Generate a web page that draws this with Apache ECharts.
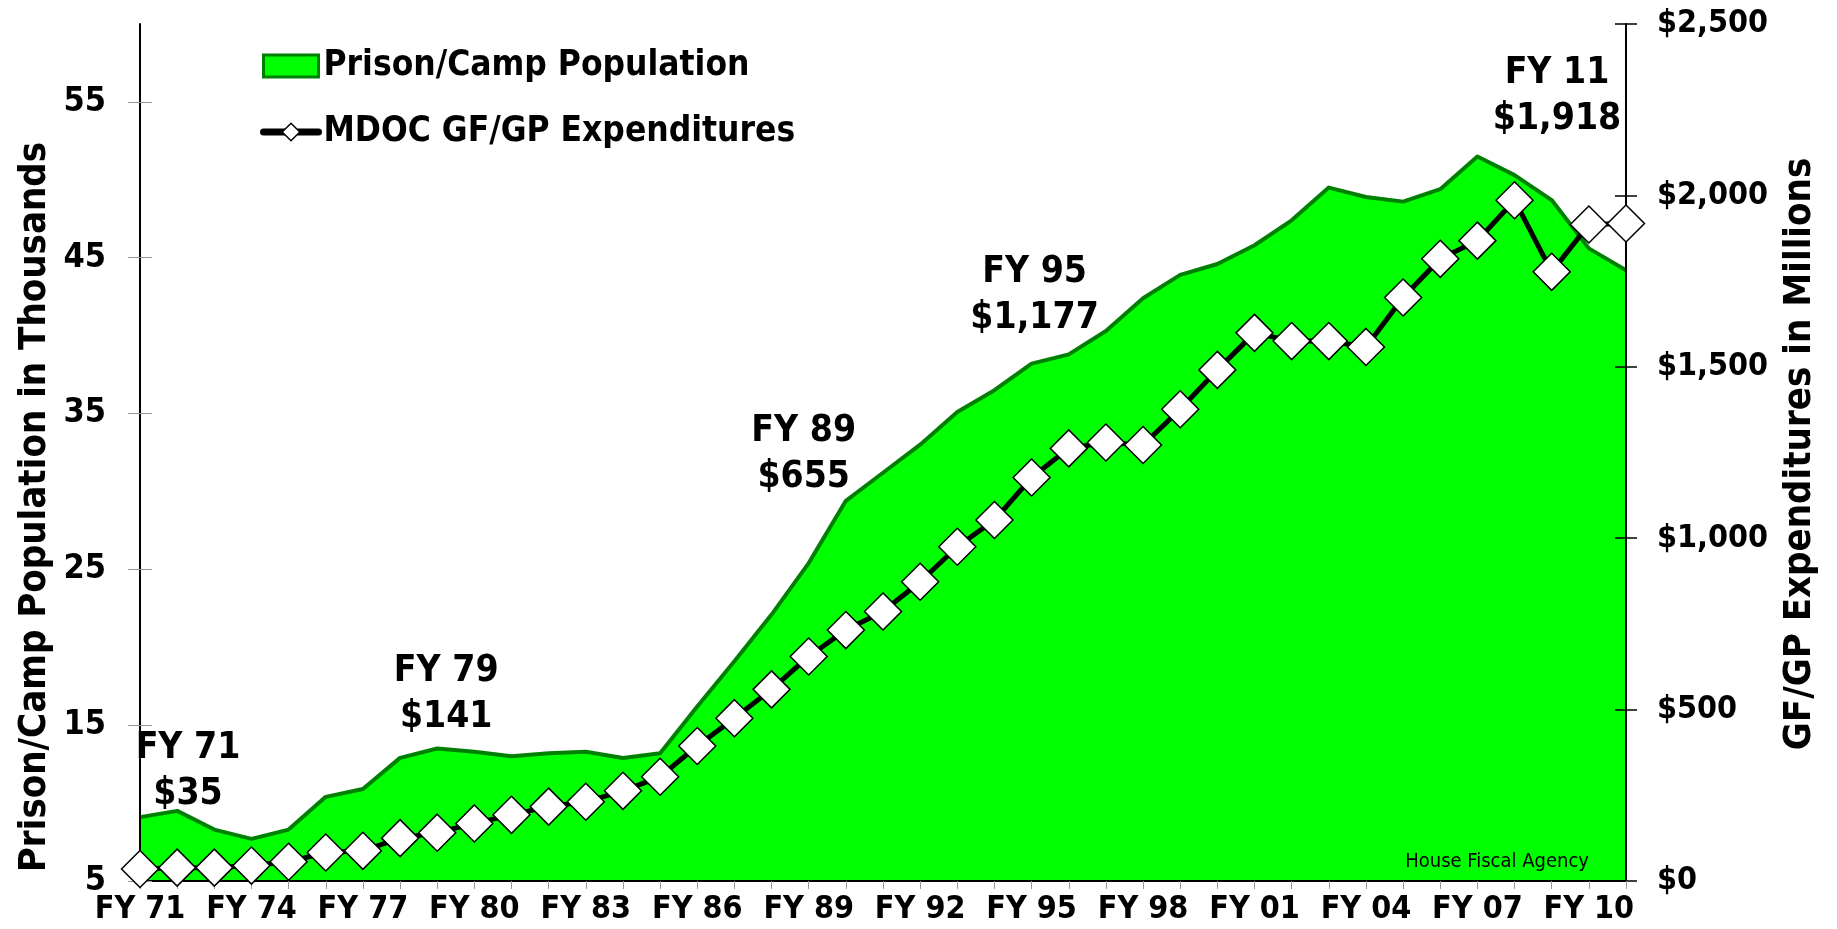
<!DOCTYPE html>
<html>
<head>
<meta charset="utf-8">
<script src="https://cdn.jsdelivr.net/npm/echarts@6/dist/echarts.min.js"></script>
<style>
  html, body { margin: 0; padding: 0; background: #ffffff; }
  #chart { width: 1837px; height: 929px; }
</style>
</head>
<body>
<div id="chart"></div>
<script>
// Fiscal years shown on the category axis
const years = [
  'FY 71','FY 72','FY 73','FY 74','FY 75','FY 76','FY 77','FY 78','FY 79','FY 80',
  'FY 81','FY 82','FY 83','FY 84','FY 85','FY 86','FY 87','FY 88','FY 89','FY 90',
  'FY 91','FY 92','FY 93','FY 94','FY 95','FY 96','FY 97','FY 98','FY 99','FY 00',
  'FY 01','FY 02','FY 03','FY 04','FY 05','FY 06','FY 07','FY 08','FY 09','FY 10',
  'FY 11'
];

// Prison/camp population, thousands
const population = [
  9.1, 9.5, 8.3, 7.7, 8.3, 10.4, 10.9, 12.9, 13.5, 13.3,
  13.0, 13.2, 13.3, 12.9, 13.2, 16.2, 19.1, 22.1, 25.4, 29.4,
  31.2, 33.0, 35.1, 36.5, 38.2, 38.8, 40.3, 42.4, 43.9, 44.6,
  45.8, 47.4, 49.5, 48.9, 48.6, 49.4, 51.5, 50.3, 48.7, 45.6,
  44.2
];

// MDOC GF/GP expenditures, $ millions
const expenditures = [
  35, 39, 39, 45, 56, 83, 88, 125, 141, 168,
  193, 217, 231, 263, 304, 394, 475, 559, 655, 732,
  786, 873, 975, 1053, 1177, 1262, 1279, 1272, 1376, 1491,
  1599, 1575, 1575, 1558, 1702, 1815, 1868, 1986, 1777, 1915,
  1918
];

// Tick values of the two value axes
const populationTicks = [5, 15, 25, 35, 45, 55];
const expenditureTicks = [0, 500, 1000, 1500, 2000, 2500];

// Years that get a spending call-out
const calloutYears = ['FY 71', 'FY 79', 'FY 89', 'FY 95', 'FY 11'];

// ---- presentation ----
const FONT = '"DejaVu Sans Condensed", "DejaVu Sans", sans-serif';
const calloutOffsets = {
  'FY 71': [48, -98],
  'FY 79': [9, -138],
  'FY 89': [-5, -202],
  'FY 95': [3, -182],
  'FY 11': [-69, -127]
};
const money = v => '$' + v.toLocaleString('en-US');

const spendData = expenditures.map((v, i) => {
  const yr = years[i];
  if (!calloutYears.includes(yr)) return v;
  return {
    value: v,
    label: {
      show: true,
      position: 'inside',
      offset: calloutOffsets[yr],
      formatter: () => yr + '\n' + money(v),
      fontFamily: FONT,
      fontWeight: 'bold',
      fontSize: 37,
      lineHeight: 46,
      color: '#000',
      align: 'center'
    }
  };
});

const chart = echarts.init(document.getElementById('chart'), null, { renderer: 'canvas' });

const popMin = 5, popMax = 60;
const spendMin = 0, spendMax = 2500;

chart.setOption({
  animation: false,
  backgroundColor: '#ffffff',
  grid: { left: 140, right: 211, top: 24, bottom: 48, containLabel: false, outerBoundsMode: 'none' },
  legend: {
    orient: 'vertical',
    left: 255,
    top: 43,
    itemWidth: 55,
    itemHeight: 22,
    itemGap: 30,
    selectedMode: false,
    textStyle: { fontFamily: FONT, fontWeight: 'bold', fontSize: 35, lineHeight: 36, color: '#000' },
    data: [
      { name: 'Prison/Camp Population', icon: 'rect',
        itemStyle: { color: '#00ff00', borderColor: '#008000', borderWidth: 3 } },
      { name: 'MDOC GF/GP Expenditures',
        itemStyle: { color: '#ffffff', borderColor: '#000000', borderWidth: 1.5 },
        lineStyle: { color: '#000000', width: 7, cap: 'round' } }
    ]
  },
  xAxis: {
    type: 'category',
    data: years,
    boundaryGap: false,
    z: 2,
    axisLine: { lineStyle: { color: '#000', width: 2 } },
    axisTick: { show: true, interval: 0, length: 8, lineStyle: { color: '#999', width: 1 } },
    axisLabel: {
      interval: 2,
      margin: 13,
      fontFamily: FONT, fontWeight: 'bold', fontSize: 32, color: '#000'
    },
    splitLine: { show: false }
  },
  yAxis: [
    {
      type: 'value', position: 'left', min: popMin, max: popMax, z: 2,
      axisLine: { show: true, lineStyle: { color: '#000', width: 2 } },
      axisTick: { show: true, length: 12, customValues: populationTicks, lineStyle: { color: '#999', width: 1 } },
      axisLabel: { customValues: populationTicks, margin: 34,
        fontFamily: FONT, fontWeight: 'bold', fontSize: 34, color: '#000' },
      splitLine: { show: false }
    },
    {
      type: 'value', position: 'right', min: spendMin, max: spendMax, interval: 500, z: 2,
      axisLine: { show: true, lineStyle: { color: '#000', width: 2 } },
      axisTick: { show: true, length: 11, customValues: expenditureTicks, lineStyle: { color: '#000', width: 1.5 } },
      axisLabel: { customValues: expenditureTicks, margin: 31, formatter: money,
        fontFamily: FONT, fontWeight: 'bold', fontSize: 32, color: '#000' },
      splitLine: { show: false }
    },
    // inner halves of the crossing tick marks
    {
      type: 'value', position: 'left', min: popMin, max: popMax, z: 2,
      axisLine: { show: false },
      axisTick: { show: true, inside: true, length: 12, customValues: populationTicks, lineStyle: { color: '#999', width: 1 } },
      axisLabel: { show: false },
      splitLine: { show: false }
    },
    {
      type: 'value', position: 'right', min: spendMin, max: spendMax, interval: 500, z: 2,
      axisLine: { show: false },
      axisTick: { show: true, inside: true, length: 11, customValues: expenditureTicks, lineStyle: { color: '#000', width: 1.5 } },
      axisLabel: { show: false },
      splitLine: { show: false }
    }
  ],
  series: [
    {
      name: 'Prison/Camp Population',
      type: 'line',
      yAxisIndex: 0,
      z: 1,
      data: population,
      symbol: 'none',
      itemStyle: { color: '#00ff00' },
      lineStyle: { color: '#008000', width: 4, join: 'round' },
      areaStyle: { color: '#00ff00', opacity: 1 },
      emphasis: { disabled: true }
    },
    {
      name: 'MDOC GF/GP Expenditures',
      type: 'line',
      yAxisIndex: 1,
      z: 3,
      clip: false,
      data: spendData,
      symbol: 'diamond',
      symbolSize: 37,
      showAllSymbol: true,
      itemStyle: { color: '#ffffff', borderColor: '#000000', borderWidth: 1.5 },
      lineStyle: { color: '#000000', width: 5 },
      emphasis: { disabled: true }
    }
  ],
  graphic: [
    {
      type: 'text', x: 35, y: 507, rotation: Math.PI / 2, z: 10,
      style: {
        text: 'Prison/Camp Population in Thousands',
        fontFamily: FONT, fontWeight: 'bold', fontSize: 38, fill: '#000',
        align: 'center', verticalAlign: 'middle'
      }
    },
    {
      type: 'text', x: 1800, y: 454, rotation: Math.PI / 2, z: 10,
      style: {
        text: 'GF/GP Expenditures in Millions',
        fontFamily: FONT, fontWeight: 'bold', fontSize: 38, fill: '#000',
        align: 'center', verticalAlign: 'middle'
      }
    },
    {
      type: 'text', x: 1589, y: 862, z: 10,
      style: {
        text: 'House Fiscal Agency',
        fontFamily: FONT, fontWeight: 'normal', fontSize: 20, fill: '#000',
        align: 'right', verticalAlign: 'middle'
      }
    }
  ]
});
</script>
</body>
</html>
